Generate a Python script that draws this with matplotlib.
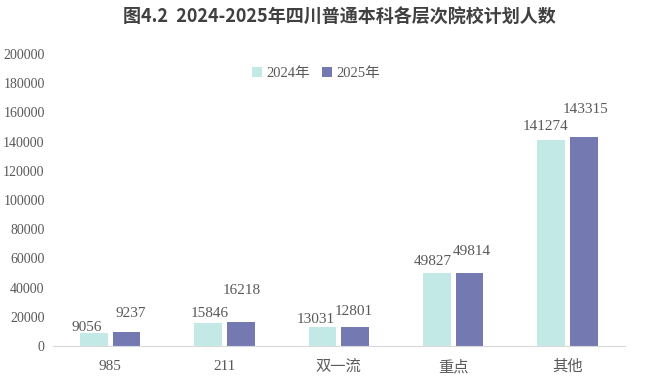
import matplotlib

matplotlib.use("Agg")
import matplotlib.pyplot as plt
import numpy as np

CATEGORIES = ["985", "211", "双一流", "重点", "其他"]
VALUES_2024 = [9056, 15846, 13031, 49827, 141274]
VALUES_2025 = [9237, 16218, 12801, 49814, 143315]
SERIES = ["2024年", "2025年"]
YTICKS = list(range(0, 200001, 20000))

COLORS = ["#c3e9e7", "#7479b2"]
TEXT = "#595959"

# label nudges (points, dx, dy of baseline over bar top), matching the staggered layout
NUDGE_2024 = [(-5, 1.5), (1, 4), (-5, 3), (-3, 6), (-4, 7)]
NUDGE_2025 = [(3, 11), (1, 20), (-1, 9), (2, 13), (1, 17)]

plt.rcParams["font.family"] = ["Liberation Serif", "Noto Sans CJK SC", "DejaVu Sans"]

fig = plt.figure(figsize=(6.46, 3.76), dpi=100)
ax = fig.add_axes([0.082, 0.08, 0.885, 0.776])

x = np.arange(len(CATEGORIES))
w = 0.243
off = 0.143
b1 = ax.bar(x - off, VALUES_2024, w, color=COLORS[0], label=SERIES[0])
b2 = ax.bar(x + off, VALUES_2025, w, color=COLORS[1], label=SERIES[1])

for bars, nudges in [(b1, NUDGE_2024), (b2, NUDGE_2025)]:
    for rect, (dx, dy) in zip(bars, nudges):
        ax.annotate(f"{int(rect.get_height())}", (rect.get_x() + rect.get_width() / 2, rect.get_height()),
                    xytext=(dx, dy), textcoords="offset points", ha="center", va="baseline",
                    fontsize=11, color=TEXT)

ax.set_xlim(-0.5, len(CATEGORIES) - 0.5)
ax.set_ylim(0, 200000)
ax.set_yticks(YTICKS)
ax.set_yticklabels([str(v) for v in YTICKS], fontsize=10, color=TEXT)
ax.set_xticks(x)
ax.set_xticklabels(CATEGORIES, fontsize=11, color=TEXT)
ax.tick_params(axis="x", length=0, pad=10)
ax.tick_params(axis="y", length=0, pad=6)
for s in ["top", "right", "left"]:
    ax.spines[s].set_visible(False)
ax.spines["bottom"].set_color("#d9d9d9")

ax.legend(loc="upper center", bbox_to_anchor=(0.46, 1.0), ncol=2, frameon=False,
          fontsize=10.5, handlelength=0.7, handleheight=0.7, handletextpad=0.3, columnspacing=0.8,
          labelcolor=TEXT)

fig.text(0.525, 0.955, "图4.2  2024-2025年四川普通本科各层次院校计划人数", ha="center", va="center",
         fontsize=13, fontweight="bold", color="#404040",
         family=["Noto Sans CJK SC", "DejaVu Sans"])

fig.savefig("out.png", dpi=100)
